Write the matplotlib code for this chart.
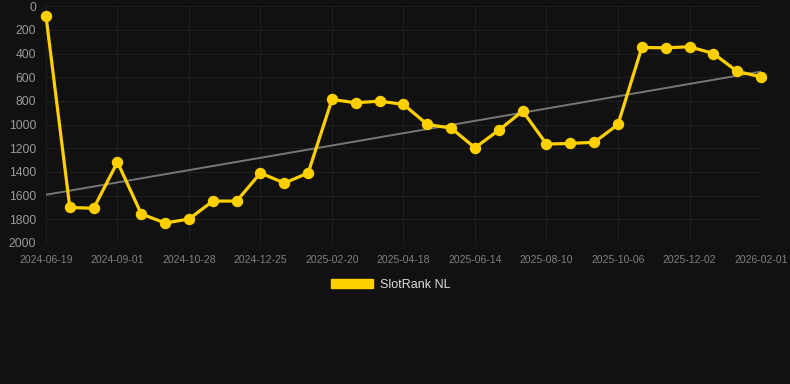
import numpy as np
import matplotlib.pyplot as plt
from matplotlib.patches import Patch

plt.rcParams["font.family"] = ["Liberation Sans", "DejaVu Sans"]

# rank values, one point per period (lower is better)
ranks = [82, 1700, 1707, 1317, 1755, 1831, 1798, 1646, 1646, 1409,
         1494, 1409, 788, 816, 802, 830, 999, 1030, 1196, 1047,
         886, 1165, 1159, 1150, 999, 349, 352, 343, 400, 551, 597]
tick_labels = ["2024-06-19", "2024-09-01", "2024-10-28", "2024-12-25",
               "2025-02-20", "2025-04-18", "2025-06-14", "2025-08-10",
               "2025-10-06", "2025-12-02", "2026-02-01"]
yticks = [0, 200, 400, 600, 800, 1000, 1200, 1400, 1600, 1800, 2000]

bg = "#111111"
gold = "#FFD000"

fig = plt.figure(figsize=(7.9, 3.84), dpi=100, facecolor=bg)
ax = fig.add_axes([0.0582, 0.3672, 0.9051, 0.6168])
ax.set_facecolor(bg)

x = np.arange(len(ranks))

# linear trend through the data
k, m = np.polyfit(x, ranks, 1)
ax.plot(x, k * x + m, color="#777777", lw=1.4, zorder=2)

ax.plot(x, ranks, color=gold, lw=2.3, marker="o", ms=7.2,
        clip_on=False, zorder=3)

ax.set_xlim(0, len(ranks) - 1)
ax.set_ylim(2000, 0)
ax.set_xticks(x[::3])
ax.set_xticklabels(tick_labels)
ax.set_yticks(yticks)

ax.grid(True, color="#1f1f1f", lw=0.8)
ax.tick_params(axis="x", length=0, pad=9, labelsize=7.5, labelcolor="#808080")
ax.tick_params(axis="y", length=0, pad=7, labelsize=8.7, labelcolor="#999999")
for s in ax.spines.values():
    s.set_visible(False)

handle = Patch(facecolor=gold, edgecolor=gold)
fig.legend([handle], ["SlotRank NL"], loc="center", bbox_to_anchor=(0.495, 0.258),
           frameon=False, fontsize=9, labelcolor="#dddddd",
           handlelength=3.3, handleheight=0.8, handletextpad=0.6)

fig.savefig("out.png", dpi=100, facecolor=bg)
